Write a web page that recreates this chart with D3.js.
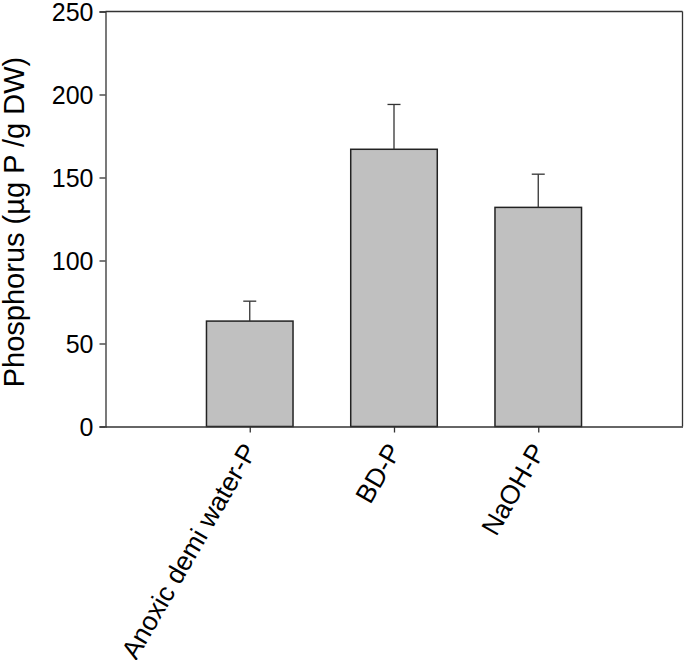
<!DOCTYPE html>
<html>
<head>
<meta charset="utf-8">
<script src="https://cdn.jsdelivr.net/npm/d3@7"></script>
<style>
  html, body { margin: 0; padding: 0; background: #fff; }
  svg { display: block; font-family: "Liberation Sans", Arial, sans-serif; }
</style>
</head>
<body>
<div id="chart"></div>
<script>
const categories = ["Anoxic demi water-P", "BD-P", "NaOH-P"];
const values = [63.5, 167, 132];
const errors = [12, 27, 20];
const yTicks = [0, 50, 100, 150, 200, 250];
const yLabel = "Phosphorus (µg P /g DW)";

const W = 685, H = 660;
const margin = { left: 105.5, top: 11.5, right: 2.5, bottom: 233.5 };
const iw = W - margin.left - margin.right;
const ih = H - margin.top - margin.bottom;

const svg = d3.select("#chart").append("svg").attr("width", W).attr("height", H);
const g = svg.append("g").attr("transform", `translate(${margin.left},${margin.top})`);

const x = d3.scalePoint().domain(["", ...categories, " "]).range([0, iw]);
const step = x.step();
const bw = step * 0.6;
const y = d3.scaleLinear().domain([0, 250]).range([ih, 0]);

const axisColor = "#333";

// bars
g.selectAll("rect.bar").data(categories).join("rect")
  .attr("class", "bar")
  .attr("x", d => x(d) - bw / 2)
  .attr("y", (d, i) => y(values[i]))
  .attr("width", bw)
  .attr("height", (d, i) => y(0) - y(values[i]))
  .attr("fill", "#c0c0c0")
  .attr("stroke", "#222")
  .attr("stroke-width", 1.5);

// error bars (upper)
const capW = 6.5;
categories.forEach((c, i) => {
  const cx = x(c);
  g.append("line").attr("x1", cx).attr("x2", cx)
    .attr("y1", y(values[i])).attr("y2", y(values[i] + errors[i]))
    .attr("stroke", axisColor).attr("stroke-width", 1.3);
  g.append("line").attr("x1", cx - capW).attr("x2", cx + capW)
    .attr("y1", y(values[i] + errors[i])).attr("y2", y(values[i] + errors[i]))
    .attr("stroke", axisColor).attr("stroke-width", 1.3);
});

// frame top & right
g.append("line").attr("x1", 0).attr("x2", iw).attr("y1", 0).attr("y2", 0)
  .attr("stroke", axisColor).attr("stroke-width", 1.3);
g.append("line").attr("x1", iw).attr("x2", iw).attr("y1", 0).attr("y2", ih)
  .attr("stroke", axisColor).attr("stroke-width", 1.3);

// y axis
const yAxis = g.append("g")
  .call(d3.axisLeft(y).tickValues(yTicks).tickSize(6).tickPadding(6).tickFormat(d3.format("d")));
yAxis.select(".domain").attr("stroke", axisColor).attr("stroke-width", 1.3);
yAxis.selectAll(".tick line").attr("stroke", axisColor).attr("stroke-width", 1.3);
yAxis.selectAll(".tick text").attr("font-size", 25).attr("fill", "#000")
  .attr("dy", "0.36em")
  .attr("font-family", "'Liberation Sans', Arial, sans-serif");

// x axis
const xAxis = g.append("g").attr("transform", `translate(0,${ih})`)
  .call(d3.axisBottom(x).tickValues(categories).tickSize(6).tickSizeOuter(0).tickFormat(""));
xAxis.select(".domain").attr("stroke", axisColor).attr("stroke-width", 1.3);
xAxis.selectAll(".tick line").attr("stroke", axisColor).attr("stroke-width", 1.3);

// rotated x labels
g.selectAll("text.xl").data(categories).join("text")
  .attr("class", "xl")
  .attr("transform", d => `translate(${x(d) + 8},${ih + 24}) rotate(-60)`)
  .attr("text-anchor", "end")
  .attr("font-size", 26.5)
  .attr("fill", "#000")
  .text(d => d);

// y label
svg.append("text")
  .attr("transform", `translate(24,222) rotate(-90)`)
  .attr("text-anchor", "middle")
  .attr("font-size", 29)
  .attr("fill", "#000")
  .text(yLabel);
</script>
</body>
</html>
